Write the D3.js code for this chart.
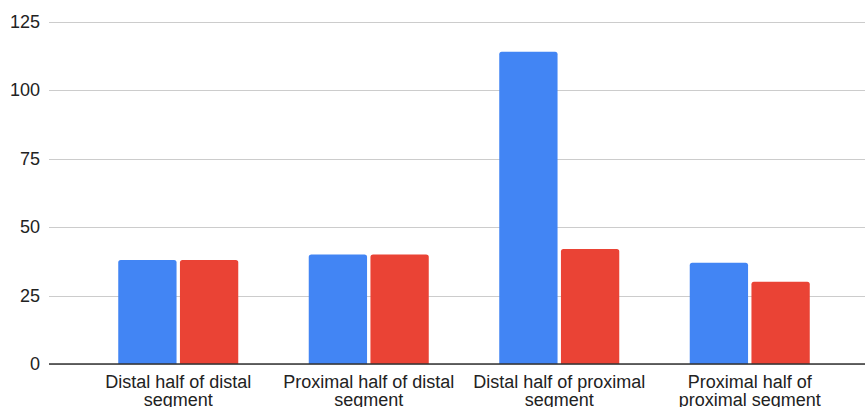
<!DOCTYPE html>
<html>
<head>
<meta charset="utf-8">
<script src="https://cdn.jsdelivr.net/npm/d3@7"></script>
<style>
  html, body { margin: 0; padding: 0; background: #fff; }
  svg { display: block; font-family: "Liberation Sans", Arial, Helvetica, sans-serif; }
</style>
</head>
<body>
<svg id="chart" width="865" height="407"></svg>
<script>
// Segment categories, with the wrapped lines of each axis label
const categories = [
  "Distal half of distal segment",
  "Proximal half of distal segment",
  "Distal half of proximal segment",
  "Proximal half of proximal segment"
];
const categoryLines = [
  ["Distal half of distal", "segment"],
  ["Proximal half of distal", "segment"],
  ["Distal half of proximal", "segment"],
  ["Proximal half of", "proximal segment"]
];
const seriesNames = ["Series A", "Series B"];
const seriesA = [38, 40, 114, 37];
const seriesB = [38, 40, 42, 30];
const yTicks = [0, 25, 50, 75, 100, 125];
const colors = ["#4285F4", "#EA4335"];

const svg = d3.select("#chart");
const plot = { left: 49, right: 865, top: 21.7, bottom: 364 };

const y = d3.scaleLinear().domain([0, 125]).range([plot.bottom, plot.top]);

const x0 = d3.scaleBand()
  .domain(categories)
  .range([83, 845])
  .paddingInner(0.37)
  .paddingOuter(0.185);

const x1 = d3.scaleBand()
  .domain(seriesNames)
  .range([0, x0.bandwidth()])
  .paddingInner(0.055);

// Horizontal gridlines and y tick labels
const yAxis = d3.axisLeft(y)
  .tickValues(yTicks)
  .tickSize(-(plot.right - plot.left))
  .tickPadding(9)
  .tickFormat(d3.format("d"));

const gy = svg.append("g")
  .attr("transform", `translate(${plot.left},0)`)
  .call(yAxis);
gy.select(".domain").remove();
gy.selectAll(".tick line")
  .attr("stroke", "#cccccc")
  .attr("stroke-width", 1)
  .attr("shape-rendering", "crispEdges");
gy.selectAll(".tick text")
  .attr("fill", "#222")
  .attr("font-size", 18)
  .attr("font-family", "\"Liberation Sans\", Arial, sans-serif");

// Bars with slightly rounded top corners
function topRoundedRect(x, yTop, w, h, r) {
  r = Math.min(r, w / 2, h);
  return `M${x},${yTop + h}` +
    `V${yTop + r}` +
    `Q${x},${yTop} ${x + r},${yTop}` +
    `H${x + w - r}` +
    `Q${x + w},${yTop} ${x + w},${yTop + r}` +
    `V${yTop + h}Z`;
}

const rows = categories.map((c, i) => ({
  category: c,
  values: [
    { key: seriesNames[0], value: seriesA[i] },
    { key: seriesNames[1], value: seriesB[i] }
  ]
}));

const groups = svg.append("g")
  .selectAll("g")
  .data(rows)
  .join("g")
  .attr("transform", d => `translate(${x0(d.category)},0)`);

groups.selectAll("path")
  .data(d => d.values)
  .join("path")
  .attr("fill", (d, i) => colors[i])
  .attr("d", d => topRoundedRect(
    x1(d.key), y(d.value), x1.bandwidth(), y(0) - y(d.value), 2.5));

// Baseline
svg.append("line")
  .attr("x1", plot.left).attr("x2", plot.right)
  .attr("y1", y(0)).attr("y2", y(0))
  .attr("stroke", "#333")
  .attr("stroke-width", 1.5);

// Category labels, two lines each
const xLabels = svg.append("g")
  .selectAll("text")
  .data(categories)
  .join("text")
  .attr("x", d => x0(d) + x0.bandwidth() / 2)
  .attr("y", 388)
  .attr("text-anchor", "middle")
  .attr("font-size", 18)
  .attr("fill", "#222");

xLabels.selectAll("tspan")
  .data((d, i) => categoryLines[i])
  .join("tspan")
  .attr("x", function () { return d3.select(this.parentNode).attr("x"); })
  .attr("dy", (d, i) => i === 0 ? 0 : 18)
  .text(d => d);
</script>
</body>
</html>
